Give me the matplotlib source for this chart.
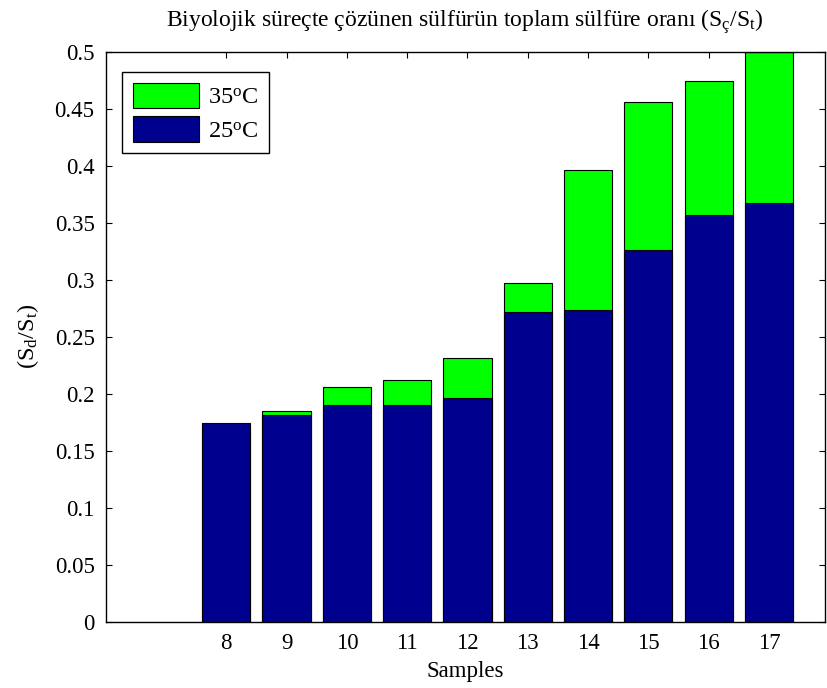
import numpy as np
import matplotlib
matplotlib.use('Agg')
import matplotlib.pyplot as plt

plt.rcParams['font.family'] = ['Liberation Serif', 'DejaVu Serif']
plt.rcParams['mathtext.fontset'] = 'custom'
plt.rcParams['mathtext.rm'] = 'Liberation Serif'
plt.rcParams['mathtext.it'] = 'Liberation Serif:italic'
plt.rcParams['mathtext.bf'] = 'Liberation Serif:bold'

# sample numbers and the S_d/S_t ratio at the two temperatures
samples = [8, 9, 10, 11, 12, 13, 14, 15, 16, 17]
ratio_35 = [0.170, 0.185, 0.206, 0.212, 0.231, 0.297, 0.396, 0.456, 0.474, 0.500]
ratio_25 = [0.174, 0.181, 0.190, 0.190, 0.196, 0.272, 0.273, 0.326, 0.357, 0.367]
yticks = np.arange(0, 0.501, 0.05)
ytick_labels = ['0', '0.05', '0.1', '0.15', '0.2', '0.25', '0.3', '0.35', '0.4', '0.45', '0.5']

fig = plt.figure(figsize=(8.27, 6.88), dpi=100)
ax = fig.add_axes([0.1278, 0.0964, 0.8698, 0.8285])

# 35 C drawn behind, 25 C in front
ax.bar(samples, ratio_35, width=0.8, color='#00FF00', edgecolor='black', linewidth=0.8,
       label='35$^{\\mathrm{o}}$C')
ax.bar(samples, ratio_25, width=0.8, color='#00008F', edgecolor='black', linewidth=0.8,
       label='25$^{\\mathrm{o}}$C')

ax.set_xlim(6, 17.93)
ax.set_ylim(0, 0.5)
ax.set_xticks(samples)
ax.set_yticks(yticks)
ax.set_yticklabels(ytick_labels)
ax.set_axisbelow(True)
ax.tick_params(direction='in', length=4, width=0.8, labelsize=16.5,
               top=True, right=True, pad=8)
for sp in ax.spines.values():
    sp.set_linewidth(1.0)

ax.set_xlabel('Samples', fontsize=16.5, labelpad=5)
ax.set_ylabel(r'$(\mathrm{S_d/S_t})$', fontsize=17.5, labelpad=10)
ax.set_title('Biyolojik süreçte çözünen sülfürün toplam sülfüre oranı (S$_{\\mathrm{ç}}$/S$_{\\mathrm{t}}$)',
             fontsize=17, pad=18)

ax.legend(loc='upper left', bbox_to_anchor=(0.0222, 0.965), borderaxespad=0,
          fontsize=17.5, fancybox=False, framealpha=1, edgecolor='black',
          handlelength=2.75, handleheight=1.25, labelspacing=0.32,
          handletextpad=0.35, borderpad=0.45)

fig.savefig('out.png', dpi=100)
